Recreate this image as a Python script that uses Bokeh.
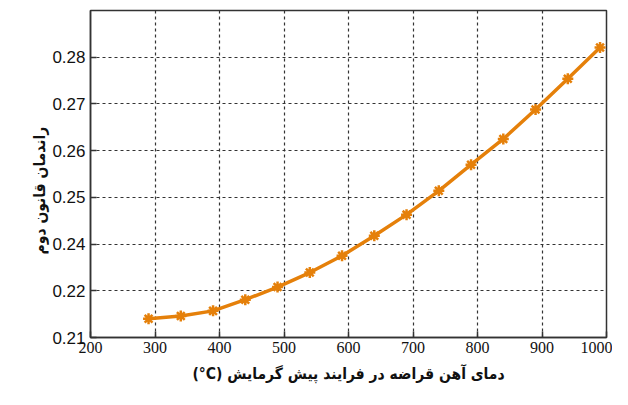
from bokeh.plotting import figure
from bokeh.models import Range1d, FixedTicker, Title
from bokeh.embed import file_html
from bokeh.resources import INLINE

temperature = [290, 340, 390, 440, 490, 540, 590, 640, 690, 740, 790, 840, 890, 940, 990]
efficiency = [0.2240, 0.2246, 0.2257, 0.2281, 0.2308, 0.2339, 0.2375, 0.2418,
              0.2463, 0.2514, 0.2570, 0.2625, 0.2688, 0.2754, 0.2821]

x_ticks = [200, 300, 400, 500, 600, 700, 800, 900, 1000]
y_ticks = [0.22, 0.23, 0.24, 0.25, 0.26, 0.27, 0.28]
y_tick_labels = ["0.21", "0.22", "0.24", "0.25", "0.26", "0.27", "0.28"]

x_title = "(°C) دمای آهن قراضه در فرایند پیش گرمایش"
y_title = "راندمان قانون دوم"

p = figure(width=612, height=389, output_backend="svg", toolbar_location=None,
           x_range=Range1d(200, 1000), y_range=Range1d(0.22, 0.29),
           min_border_left=90, min_border_right=6, min_border_top=10, min_border_bottom=51)

p.background_fill_color = "white"
p.border_fill_color = "white"
p.outline_line_color = "#333333"
p.outline_line_width = 1.5

p.xaxis.ticker = FixedTicker(ticks=x_ticks)
p.yaxis.ticker = FixedTicker(ticks=y_ticks)
p.yaxis.major_label_overrides = {t: l for t, l in zip(y_ticks, y_tick_labels)}

for ax in (p.xaxis[0], p.yaxis[0]):
    ax.major_tick_in = 6
    ax.major_tick_out = 0
    ax.minor_tick_line_color = None
    ax.axis_line_color = "#333333"
    ax.axis_line_width = 1.5
    ax.major_tick_line_color = "#333333"
    ax.major_tick_line_width = 1.5
    ax.major_label_text_color = "#111111"

p.xaxis.major_label_text_font = "Liberation Sans Narrow"
p.xaxis.major_label_text_font_size = "16px"
p.xaxis.major_label_standoff = 4
p.yaxis.major_label_text_font = "Liberation Sans"
p.yaxis.major_label_text_font_size = "17px"
p.yaxis.major_label_standoff = 5

title_style = dict(text_font="DejaVu Sans Condensed", text_font_style="bold",
                   text_font_size="15.5px", text_color="#111111")

p.add_layout(Title(text=x_title, align="center", offset=-7, standoff=14, **title_style), "below")
p.add_layout(Title(text=y_title, align="left", offset=83, standoff=2, **title_style), "left")

for g in (p.xgrid[0], p.ygrid[0]):
    g.grid_line_color = "#333333"
    g.grid_line_dash = "3 3"
    g.grid_line_width = 1.2

p.line(temperature, efficiency, line_color="#E5800A", line_width=3.5)
p.scatter(temperature, efficiency, marker="asterisk", size=11, line_color="#E5800A", line_width=2.5)

open("out.html", "w").write(file_html(p, INLINE))
